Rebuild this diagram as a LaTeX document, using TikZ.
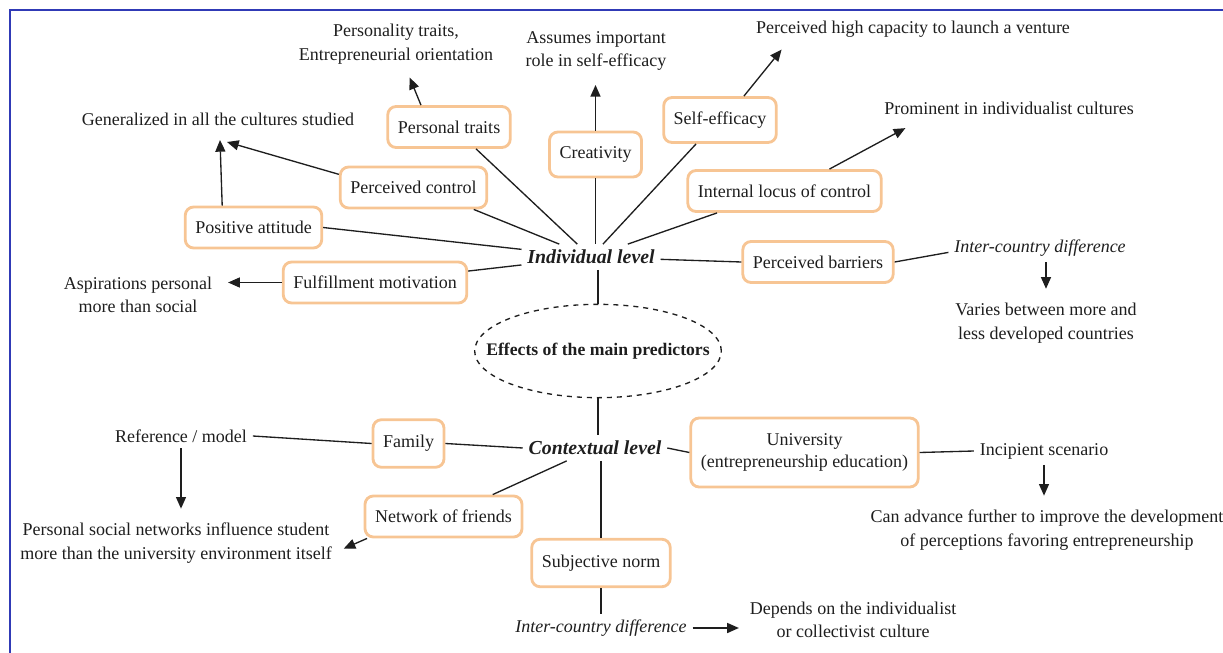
\documentclass[tikz,border=0pt]{standalone}
\usepackage{fontspec}
\setmainfont{Liberation Serif}
\usetikzlibrary{shapes.geometric,arrows.meta}

\definecolor{peach}{RGB}{247,197,148}
\definecolor{frameblue}{RGB}{48,58,182}
\definecolor{ink}{RGB}{30,30,30}

\tikzset{
    factor/.style={draw=peach, line width=1.7pt, rounded corners=5pt, inner xsep=6pt, minimum height=24.6pt, text=ink, font=\fontsize{10.8}{13}\selectfont},
    remark/.style={align=center, text=ink, font=\fontsize{10.8}{14.2}\selectfont},
    remarkit/.style={remark, font=\fontsize{10.8}{14.2}\selectfont\itshape},
    level/.style={text=ink, font=\fontsize{11.9}{14}\selectfont\bfseries\itshape},
    link/.style={ink, line width=0.8pt},
}

\begin{document}
\begin{tikzpicture}[x=0.6pt, y=-0.6pt, >={Triangle[length=7pt, width=6pt]}]
    \useasboundingbox (0,0) rectangle (1223,653);
    % Frame
    \draw[frameblue, line width=1.2pt] (10,653) -- (10,10) -- (1223,10);
    % Centre and levels
    \node[ellipse, draw=ink, dashed, line width=0.8pt, minimum width=148pt, minimum height=56pt, inner xsep=-15pt, inner ysep=14pt, text=ink, font=\fontsize{10.6}{12}\selectfont\bfseries] (effects) at (598,351) {Effects of the main predictors};
    \node[level] (indiv) at (591,257) {Individual level};
    \node[level] (context) at (595,448) {Contextual level};
    % Individual factors
    \node[factor] (ptraits) at (449,127) {Personal traits};
    \node[factor, minimum height=27pt] (creat) at (595.5,154.5) {Creativity};
    \node[factor, minimum height=27pt] (seff) at (720,120) {Self-efficacy};
    \node[factor] (pcontrol) at (413.5,187.5) {Perceived control};
    \node[factor] (locus) at (784.5,191) {Internal locus of control};
    \node[factor] (posatt) at (253.5,227.5) {Positive attitude};
    \node[factor] (fulfil) at (375,282.5) {Fulfillment motivation};
    \node[factor] (barriers) at (818,262) {Perceived barriers};
    % Contextual factors
    \node[factor, minimum height=28.5pt] (family) at (408.5,443.5) {Family};
    \node[factor, align=center, minimum width=136pt, minimum height=41.4pt] (univ) at (804.5,452.5) {University\\(entrepreneurship education)};
    \node[factor] (friends) at (443.5,516.5) {Network of friends};
    \node[factor, minimum height=28.5pt] (subjnorm) at (601,563) {Subjective norm};
    % Notes
    \node[remark] (ptnote) at (396,44) {Personality traits,\\Entrepreneurial orientation};
    \node[remark] (crnote) at (596,51) {Assumes important\\role in self-efficacy};
    \node[remark] (seffnote) at (913,29) {Perceived high capacity to launch a venture};
    \node[remark] (gennote) at (218,119) {Generalized in all the cultures studied};
    \node[remark] (prnote) at (1009,108) {Prominent in individualist cultures};
    \node[remark] (aspnote) at (138,295) {Aspirations personal\\more than social};
    \node[remarkit] (icnote1) at (1040,248) {Inter-country difference};
    \node[remark] (varnote) at (1046,323) {Varies between more and\\less developed countries};
    \node[remark] (refnote) at (181,436) {Reference / model};
    \node[remark] (psnnote) at (176,543) {Personal social networks influence student\\more than the university environment itself};
    \node[remark] (incnote) at (1044,451) {Incipient scenario};
    \node[remark] (cannote) at (1047,530) {Can advance further to improve the development\\of perceptions favoring entrepreneurship};
    \node[remarkit] (icnote2) at (601,628) {Inter-country difference};
    \node[remark] (depnote) at (853,620) {Depends on the individualist\\or collectivist culture};
    \coordinate (genleft) at (220,140);
    \coordinate (genright) at (227,142);
    % Individual level links
    \draw[link] (ptraits.-39) -- (indiv);
    \draw[link] (creat.south) -- (creat.south |- indiv.north);
    \draw[link] (seff.-135) -- (indiv);
    \draw[link] (pcontrol.-20) -- (indiv);
    \draw[link] (locus.-162) -- (indiv);
    \draw[link] (posatt.east) -- (indiv);
    \draw[link] (fulfil.7) -- (indiv);
    \draw[link] (barriers.west) -- (indiv);
    \draw[link] (indiv.south -| effects.north) -- (effects.north);
    \draw[link] (barriers.east) -- (icnote1.base west);
    \draw[link, ->, shorten >=5pt] (ptraits.142) -- (ptnote);
    \draw[link, ->, shorten >=5pt] (creat.north) -- (creat.north |- crnote.south);
    \draw[link, ->, shorten >=5pt] (seff.45) -- ([xshift=22pt]seffnote.south west);
    \draw[link, ->, shorten >=10pt] (locus.26) -- ([xshift=25pt]prnote.south west);
    \draw[link, ->] (posatt.145) -- (genleft);
    \draw[link, ->] (pcontrol.170) -- (genright);
    \draw[link, ->, shorten >=6pt] (fulfil.west) -- (fulfil.west -| aspnote.east);
    \draw[link, ->, shorten >=5pt] (varnote.north |- icnote1.south) -- (varnote.north);
    % Contextual level links
    \draw[link] (effects.south) -- (effects.south |- context.north);
    \draw[link] (family.east) -- (context.west);
    \draw[link] (friends.24) -- (context);
    \draw[link] (context.east) -- (univ.west);
    \draw[link] (context.south -| subjnorm.north) -- (subjnorm.north);
    \draw[link] (subjnorm.south) -- (icnote2.north);
    \draw[link] (family.west) -- (refnote.east);
    \draw[link] (univ.east) -- (incnote.west);
    \draw[link, ->, shorten >=5pt] (refnote.south) -- (refnote.south |- psnnote.north);
    \draw[link, ->, shorten >=4pt] (friends.196) -- ([yshift=-5pt]psnnote.east);
    \draw[link, ->, shorten >=5pt] (incnote.south) -- (incnote.south |- cannote.north);
    \draw[link, ->, shorten >=3pt] (icnote2.east) -- (icnote2.east -| depnote.west);
\end{tikzpicture}
\end{document}
